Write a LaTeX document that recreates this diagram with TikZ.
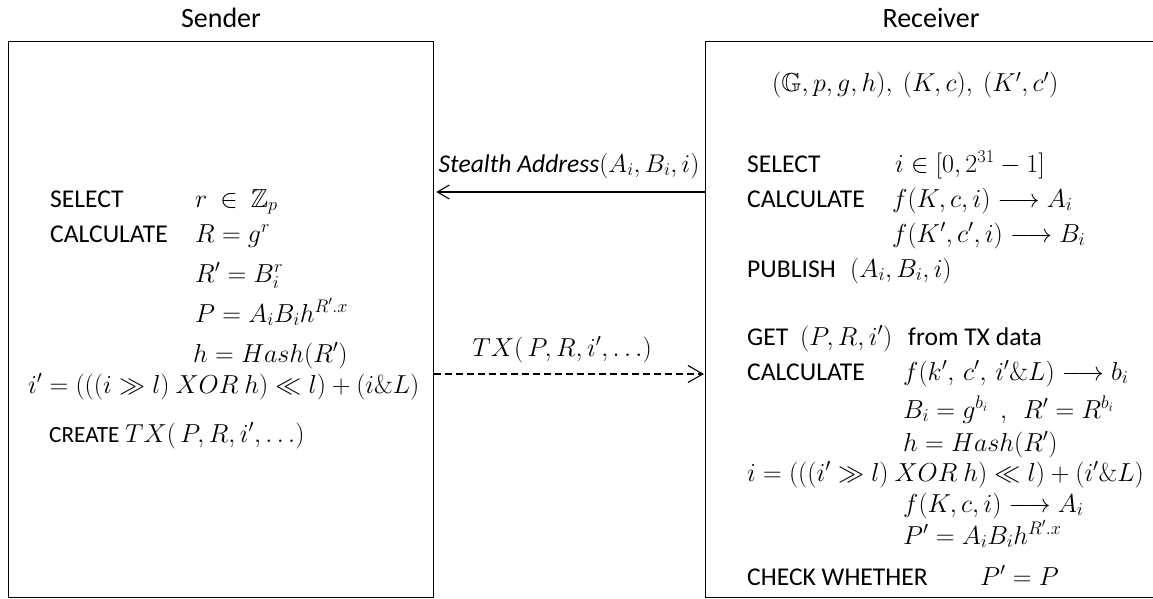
\RequirePackage{fix-cm}
\documentclass[tikz,border=0pt]{standalone}
\usepackage{amssymb}
\usepackage[no-math]{fontspec}
\setmainfont{Carlito}
\usetikzlibrary{arrows.meta}
\begin{document}
\begin{tikzpicture}[x=1pt,y=-1pt]
\tikzset{
  box/.style={draw, line width=1.3pt, inner sep=0pt, anchor=north west, minimum height=556pt},
  txt/.style={anchor=base west, inner sep=0pt, font=\fontsize{25.6}{30}\selectfont},
  mth/.style={anchor=base west, inner sep=0pt, font=\fontsize{26}{30}\selectfont},
  ctxt/.style={anchor=base, inner sep=0pt, font=\fontsize{25.6}{30}\selectfont},
  ttl/.style={anchor=base, inner sep=0pt, font=\fontsize{28}{32}\selectfont},
  msg/.style={line width=1.1pt, -{Straight Barb[length=12pt,width=14pt,line width=1.1pt]}},
  dmsg/.style={line width=1.1pt, dash pattern=on 7pt off 4pt, -{Straight Barb[length=15pt,width=17pt,line width=1.1pt,sep=0pt]}},
}
\useasboundingbox (0,0) rectangle (1153,599);
% boxes
\node[box, minimum width=425pt] (send) at (8,41) {};
\node[box, minimum width=460pt] (recv) at (705,41) {};
% titles
\node[ttl] (tsend) at (221,28) {Sender};
\node[ttl] (trecv) at (931,28) {Receiver};
% sender content
\node[txt] (s1) at (50,207) {SELECT};
\node[mth] (s1m) at (195,207) {$r\ \in\ \mathbb{Z}_p$};
\node[txt] (s2) at (50,242) {CALCULATE};
\node[mth] (s2m) at (195,242) {$R = g^r$};
\node[mth] (s3m) at (195,282) {$R' = B_i^r$};
\node[mth] (s4m) at (195,322) {$P = A_iB_ih^{R'.x}$};
\node[mth] (s5m) at (193,362) {$h = Hash(R')$};
\node[mth] (s6m) at (28,393) {$i' = (((i \gg l)\ XOR\ h) \ll l) + (i\&L)$};
\node[txt, font=\fontsize{23.2}{28}\selectfont] (s7) at (49,442) {CREATE};
\node[mth] (s7m) at (125,442) {$TX(\,P,R,i',\ldots)$};
% receiver content
\node[mth] (r0m) at (772,92) {$(\mathbb{G},p,g,h),\ (K,c),\ (K',c')$};
\node[txt] (r1) at (747,172) {SELECT};
\node[mth] (r1m) at (895,172) {$i\in[0,2^{31}-1]$};
\node[txt] (r2) at (747,207) {CALCULATE};
\node[mth] (r2m) at (892,207) {$f(K,c,i)\longrightarrow A_i$};
\node[mth] (r3m) at (892,242) {$f(K',c',i)\longrightarrow B_i$};
\node[txt] (r4) at (747,277) {PUBLISH};
\node[mth] (r4m) at (850,277) {$(A_i,B_i,i)$};
\node[txt] (r5) at (747,345) {GET};
\node[mth] (r5m) at (800,345) {$(P,R,i')$};
\node[txt] (r5t) at (908,345) {from TX data};
\node[txt] (r6) at (747,380) {CALCULATE};
\node[mth] (r6m) at (903,380) {$f(k',\,c',\,i'\&L)\longrightarrow b_i$};
\node[mth] (r7m) at (903,418) {$B_i = g^{b_i}\ \ ,\ \ R' = R^{b_i}$};
\node[mth] (r8m) at (903,451) {$h = Hash(R')$};
\node[mth] (r9m) at (747,481) {$i = (((i' \gg l)\ XOR\ h) \ll l) + (i'\&L)$};
\node[mth] (r10m) at (903,512) {$f(K,c,i)\longrightarrow A_i$};
\node[mth] (r11m) at (903,544) {$P' = A_iB_ih^{R'.x}$};
\node[txt] (r12) at (747,585) {CHECK WHETHER};
\node[mth] (r12m) at (980,585) {$P' = P$};
% messages
\coordinate (y1) at (0,192);
\coordinate (y2) at (0,374);
\draw[msg, shorten >=2pt] (recv.west |- y1) -- (send.east |- y1);
\draw[dmsg, shorten >=1pt] (send.east |- y2) -- (recv.west |- y2);
\node[ctxt] (m1) at (569,172) {\textit{Stealth Address}$(A_i,B_i,i)$};
\node[mth, anchor=base east] (m2) at (652,356) {$TX(\,P,R,i',\ldots)$};
\end{tikzpicture}
\end{document}
